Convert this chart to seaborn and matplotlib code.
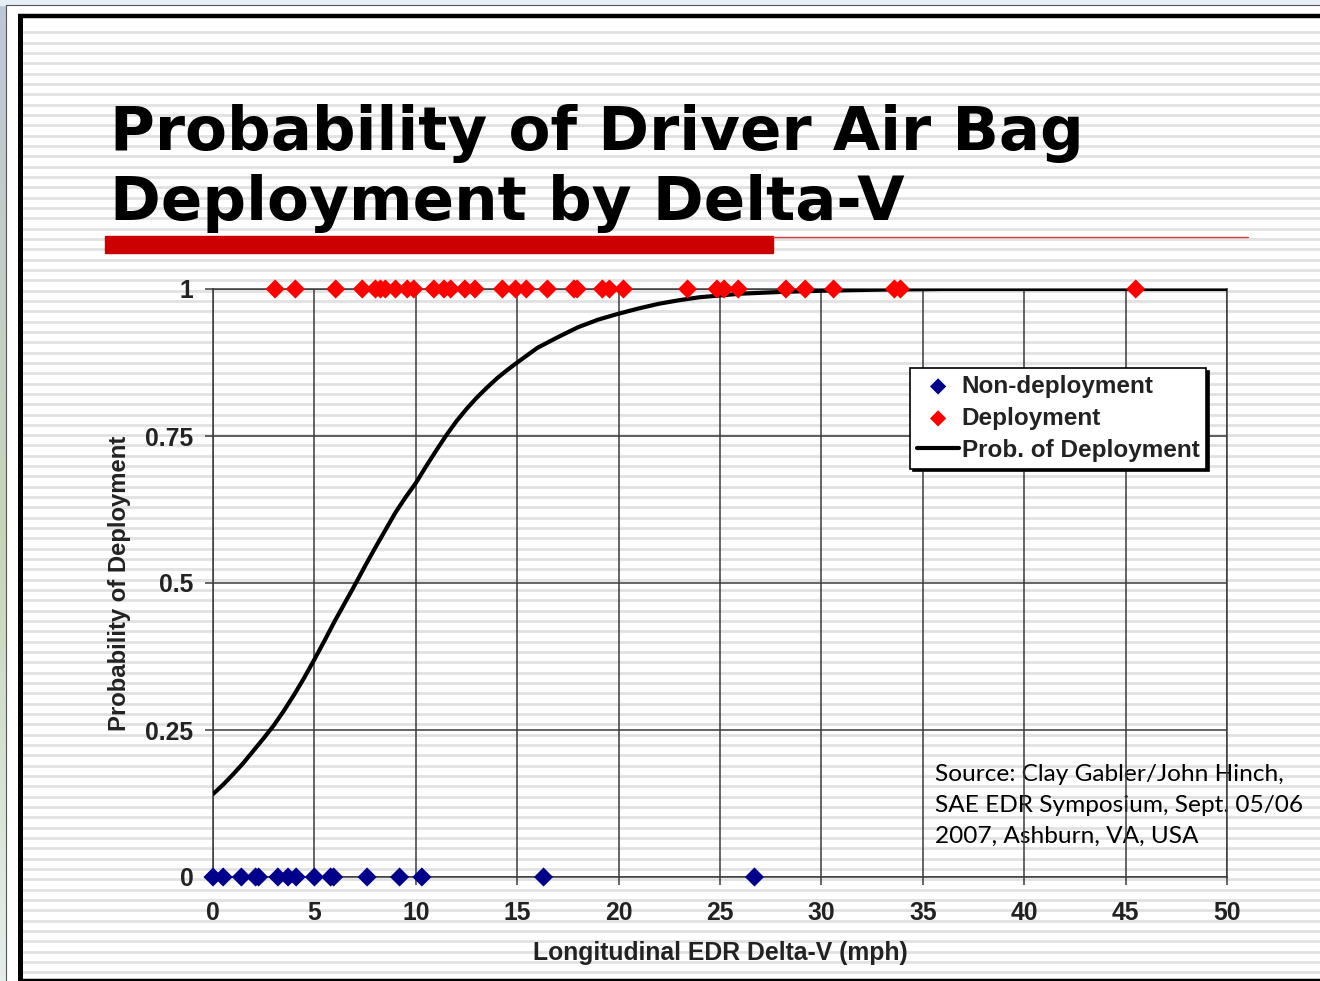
import numpy as np
import matplotlib
matplotlib.use("Agg")
import matplotlib.pyplot as plt
import seaborn as sns
from matplotlib.patches import Rectangle

# ---------------- data ----------------
deploy_x = [3.06, 4.06, 6.05, 7.36, 8.01, 8.26, 8.5, 9.0, 9.58, 9.9, 10.89, 11.39,
            11.72, 12.42, 12.92, 14.27, 14.92, 15.45, 16.49, 17.8, 17.96, 19.2,
            19.55, 20.24, 23.4, 24.85, 25.2, 25.9, 28.25, 29.2, 30.6, 33.6, 33.9, 45.5]
deploy_y = [1] * len(deploy_x)

nondeploy_x = [0.0, 0.5, 1.4, 2.1, 2.25, 3.2, 3.7, 4.1, 5.0, 5.8, 5.95, 7.6, 9.2, 10.3, 16.3, 26.7]
nondeploy_y = [0] * len(nondeploy_x)

curve_x = [0, 0.5, 1, 1.5, 2, 2.5, 3, 3.5, 4, 4.5, 5, 5.5, 6, 6.5, 7, 7.5, 8, 8.5, 9,
           9.5, 10, 10.5, 11, 11.5, 12, 12.5, 13, 13.5, 14, 14.5, 15, 16, 17, 18, 19,
           20, 21, 22, 23, 24, 26, 28, 30, 33, 36, 40, 45, 50]
curve_p = [0.141, 0.157, 0.175, 0.194, 0.215, 0.236, 0.258, 0.283, 0.31, 0.339,
           0.37, 0.402, 0.435, 0.466, 0.497, 0.529, 0.56, 0.59, 0.62, 0.646,
           0.67, 0.698, 0.725, 0.751, 0.775, 0.796, 0.815, 0.832, 0.848, 0.862,
           0.875, 0.90, 0.918, 0.935, 0.948, 0.958, 0.967, 0.975, 0.981, 0.986,
           0.992, 0.995, 0.997, 0.999, 1.0, 1.0, 1.0, 1.0]

x_ticks = [0, 5, 10, 15, 20, 25, 30, 35, 40, 45, 50]
y_ticks = [0, 0.25, 0.5, 0.75, 1]
y_tick_labels = ["0", "0.25", "0.5", "0.75", "1"]

title_lines = ["Probability of Driver Air Bag", "Deployment by Delta-V"]
source_lines = ["Source: Clay Gabler/John Hinch,", "SAE EDR Symposium, Sept. 05/06",
                "2007, Ashburn, VA, USA"]

# ---------------- figure ----------------
sns.set_theme(style="white")
plt.rcParams["font.family"] = ["Liberation Sans", "DejaVu Sans"]

W, H = 1320, 981
fig = plt.figure(figsize=(W / 100, H / 100), dpi=100, facecolor="white")

# slide background (pixel coordinates)
bg = fig.add_axes([0, 0, 1, 1], zorder=-10)
bg.set_xlim(0, W)
bg.set_ylim(H, 0)
bg.axis("off")

grad = np.linspace(0, 1, 200)
top_c = np.array([0.74, 0.78, 0.84])
mid_c = np.array([0.78, 0.84, 0.72])
bot_c = np.array([0.90, 0.93, 0.92])
img = np.zeros((200, 1, 3))
for i, g in enumerate(grad):
    if g < 0.55:
        t = g / 0.55
        img[i, 0] = top_c * (1 - t) + mid_c * t
    else:
        t = (g - 0.55) / 0.45
        img[i, 0] = mid_c * (1 - t) + bot_c * t
bg.imshow(img, extent=[0, 6, H, 0], aspect="auto", zorder=0)
bg.add_patch(Rectangle((0, 0), W, 4.5, color="#e6eef6", zorder=0))
bg.plot([6, 6], [4.5, H], color="#555555", lw=0.8, zorder=1)
bg.plot([6, W], [4.5, 4.5], color="#555555", lw=0.8, zorder=1)

for yy in np.arange(32.3, H, 10.33):
    bg.plot([22, W], [yy, yy], color="#e1e1e1", lw=2.0, zorder=1, solid_capstyle="butt")

bg.plot([19.5, 19.5], [16, H], color="black", lw=3.6, zorder=2, solid_capstyle="butt")
bg.plot([17.5, W], [16, 16], color="black", lw=3.2, zorder=2, solid_capstyle="butt")
bg.plot([17.5, W], [980, 980], color="black", lw=2.5, zorder=2, solid_capstyle="butt")

bg.text(110, 150, title_lines[0], fontsize=44, fontweight="bold",
        family="DejaVu Sans", va="baseline", ha="left", color="black", zorder=3)
bg.text(110, 220, title_lines[1], fontsize=44, fontweight="bold",
        family="DejaVu Sans", va="baseline", ha="left", color="black", zorder=3)

bg.add_patch(Rectangle((105, 236), 668, 17, color="#cc0000", zorder=3))
bg.plot([773, 1248], [236.5, 236.5], color="#d23c3c", lw=1.0, zorder=3)

for txt, yb in zip(source_lines, [781, 812, 843]):
    bg.text(935, yb, txt, fontsize=17.6, family="Lato", va="baseline", ha="left",
            color="black", zorder=3)

# ---------------- chart axes ----------------
ax = fig.add_axes([213 / W, 1 - 877 / H, (1227 - 213) / W, (877 - 289) / H], zorder=1)
ax.set_facecolor("none")

FS = 17.8
sns.lineplot(x=curve_x, y=curve_p, color="black", lw=3.0, ax=ax, zorder=3,
             label="Prob. of Deployment")
sns.scatterplot(x=nondeploy_x, y=nondeploy_y, marker="D", color="#00008b", s=95,
                edgecolor="none", ax=ax, zorder=4, clip_on=False, label="Non-deployment")
sns.scatterplot(x=deploy_x, y=deploy_y, marker="D", color="#ff0000", s=95,
                edgecolor="none", ax=ax, zorder=4, clip_on=False, label="Deployment")

ax.set_xlim(0, 50)
ax.set_ylim(0, 1)
ax.set_xticks(x_ticks)
ax.set_yticks(y_ticks)
ax.set_yticklabels(y_tick_labels)
ax.grid(True, color="#3a3a3a", lw=1.1)
for sp in ax.spines.values():
    sp.set_visible(True)
    sp.set_color("#3a3a3a")
    sp.set_linewidth(1.1)
ax.tick_params(axis="both", which="major", direction="out", length=6, width=1.1,
               color="#3a3a3a", labelsize=FS, labelcolor="#222222",
               bottom=True, left=True)
ax.tick_params(axis="x", pad=11)
ax.tick_params(axis="y", pad=8)
for lab in ax.get_xticklabels() + ax.get_yticklabels():
    lab.set_fontweight("bold")

ax.set_xlabel("Longitudinal EDR Delta-V (mph)", fontsize=FS, fontweight="bold",
              color="#222222")
ax.set_ylabel("Probability of Deployment", fontsize=17.2, fontweight="bold",
              color="#222222")
ax.xaxis.set_label_coords(0.5, -0.108)
ax.yaxis.set_label_coords(-0.081, 0.5)

handles, labels = ax.get_legend_handles_labels()
order = [labels.index("Non-deployment"), labels.index("Deployment"),
         labels.index("Prob. of Deployment")]
leg = ax.legend([handles[i] for i in order], [labels[i] for i in order],
                loc="upper left", bbox_to_anchor=(910 / W, 1 - 368 / H),
                bbox_transform=fig.transFigure, frameon=True, fancybox=False,
                shadow={"color": "black", "alpha": 1.0}, framealpha=1.0,
                prop={"size": 17.5, "weight": "bold"}, handlelength=1.75,
                handletextpad=0.1, labelspacing=0.37, borderpad=0.28,
                borderaxespad=0, markerscale=0.85)
leg.get_frame().set_edgecolor("black")
leg.get_frame().set_linewidth(1.2)
for t in leg.get_texts():
    t.set_color("#222222")

fig.savefig("out.png", dpi=100, facecolor="white")
